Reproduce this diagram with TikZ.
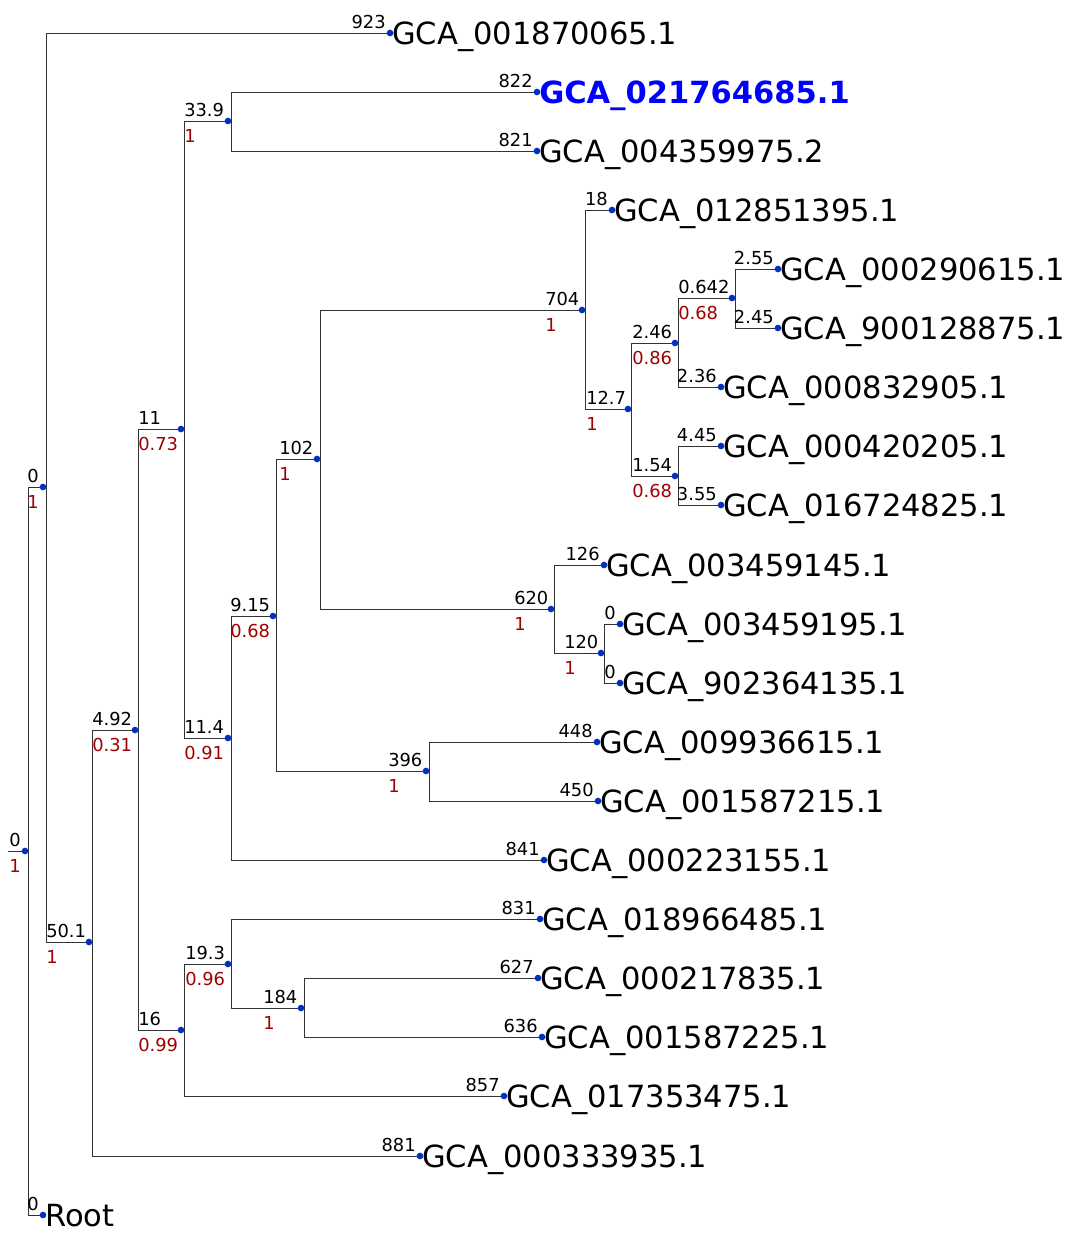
\documentclass[tikz,border=0pt]{standalone}
\usepackage{fontspec}
\setmainfont{DejaVu Sans}
\usetikzlibrary{backgrounds}
\definecolor{nodeblue}{HTML}{0030C0}
\definecolor{supred}{HTML}{A00000}
\definecolor{hilite}{HTML}{0000FF}
\begin{document}
\begin{tikzpicture}[x=0.75pt, y=-0.75pt,
    branch/.style={draw=black!80, line width=0.75pt},
    nodedot/.style={circle, fill=nodeblue, inner sep=0pt, minimum size=5pt},
    leafname/.style={font=\fontsize{22.9}{27}\selectfont, anchor=base west, inner sep=0pt},
    lenlab/.style={font=\fontsize{13.4}{16}\selectfont, inner sep=0pt},
    suplab/.style={lenlab, text=supred}]
    \useasboundingbox (0,0) rectangle (1078,1233);
    % leaves
    \foreach \n/\x/\y/\len/\name in {
        g001870065/390/33/923/GCA\_001870065.1,
        g004359975/537/151/821/GCA\_004359975.2,
        g012851395/612/210/18/GCA\_012851395.1,
        g000290615/778/269/2.55/GCA\_000290615.1,
        g900128875/778/328/2.45/GCA\_900128875.1,
        g000832905/721/387/2.36/GCA\_000832905.1,
        g000420205/721/446/4.45/GCA\_000420205.1,
        g016724825/721/505/3.55/GCA\_016724825.1,
        g003459145/604/565/126/GCA\_003459145.1,
        g003459195/620/624/0/GCA\_003459195.1,
        g902364135/620/683/0/GCA\_902364135.1,
        g009936615/597/742/448/GCA\_009936615.1,
        g001587215/598/801/450/GCA\_001587215.1,
        g000223155/544/860/841/GCA\_000223155.1,
        g018966485/540/919/831/GCA\_018966485.1,
        g000217835/538/978/627/GCA\_000217835.1,
        g001587225/542/1037/636/GCA\_001587225.1,
        g017353475/504/1096/857/GCA\_017353475.1,
        g000333935/420/1156/881/GCA\_000333935.1,
        rootleaf/43/1215/0/Root} {
        \node[nodedot] (\n) at (\x,\y) {};
        \node[lenlab, anchor=base east] (\n-len) at (\x-4,\y-5) {\len};
        \node[leafname] (\n-name) at (\x+2,\y+11) {\name};
    }
    % the query genome
    \node[nodedot] (g021764685) at (537,92) {};
    \node[lenlab, anchor=base east] (g021764685-len) at (533,87) {822};
    \node[leafname, text=hilite, font=\fontsize{22.9}{27}\selectfont\bfseries] (g021764685-name) at (539,103) {GCA\_021764685.1};
    % inner nodes: branch length above, support below
    \foreach \n/\x/\y/\lx/\len/\sup in {
        root/25/851/9/0/1,
        n0/43/487/27/0/1,
        n50/89/942/46/50.1/1,
        n492/135/730/92/4.92/0.31,
        n11/181/429/138/11/0.73,
        n16/181/1030/138/16/0.99,
        n339/228/121/184/33.9/1,
        n114/228/738/184/11.4/0.91,
        n915/273/616/230/9.15/0.68,
        n102/317/459/279/102/1,
        n396/426/771/388/396/1,
        n704/582/310/545/704/1,
        n127/628/409/586/12.7/1,
        n246/675/343/632/2.46/0.86,
        n154/675/476/632/1.54/0.68,
        n0642/732/298/678/0.642/0.68,
        n620/551/609/514/620/1,
        n120/601/653/564/120/1,
        n193/228/964/185/19.3/0.96,
        n184/301/1008/263/184/1} {
        \node[nodedot] (\n) at (\x,\y) {};
        \node[lenlab, anchor=base west] (\n-len) at (\lx,\y-5) {\len};
        \node[suplab, anchor=base west] (\n-sup) at (\lx,\y+21) {\sup};
    }
    \coordinate (stem) at (8,851);
    % branches
    \begin{scope}[on background layer]
        \draw[branch] (stem) -- (root.center);
        \foreach \p/\c in {root/n0, root/rootleaf,
            n0/g001870065, n0/n50,
            n50/n492, n50/g000333935,
            n492/n11, n492/n16,
            n11/n339, n11/n114,
            n339/g021764685, n339/g004359975,
            n114/n915, n114/g000223155,
            n915/n102, n915/n396,
            n102/n704, n102/n620,
            n704/g012851395, n704/n127,
            n127/n246, n127/n154,
            n246/n0642, n246/g000832905,
            n0642/g000290615, n0642/g900128875,
            n154/g000420205, n154/g016724825,
            n620/g003459145, n620/n120,
            n120/g003459195, n120/g902364135,
            n396/g009936615, n396/g001587215,
            n16/n193, n16/g017353475,
            n193/g018966485, n193/n184,
            n184/g000217835, n184/g001587225}
            \draw[branch] ([xshift=2.25pt]\p.center) |- (\c.center);
    \end{scope}
\end{tikzpicture}
\end{document}
